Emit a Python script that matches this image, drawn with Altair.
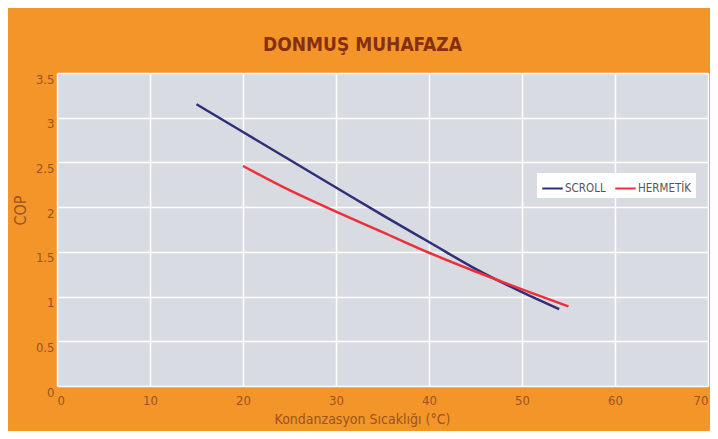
import altair as alt
import pandas as pd

# Data
scroll_x = [15, 20, 25, 30, 35, 40, 45, 50, 54]
scroll_y = [3.15, 2.84, 2.53, 2.22, 1.91, 1.61, 1.31, 1.05, 0.86]
hermetik_x = [20, 25, 30, 35, 40, 45, 50, 55]
hermetik_y = [2.46, 2.19, 1.95, 1.72, 1.49, 1.28, 1.08, 0.89]
series_names = ["SCROLL", "HERMETİK"]
series_colors = ["#2E2F78", "#EC2F3A"]
x_ticks = [0, 10, 20, 30, 40, 50, 60, 70]
y_ticks = [0, 0.5, 1, 1.5, 2, 2.5, 3, 3.5]

rows = []
for i, (x, y) in enumerate(zip(scroll_x, scroll_y)):
    rows.append({"seri": series_names[0], "t": x, "cop": y, "o": i})
for i, (x, y) in enumerate(zip(hermetik_x, hermetik_y)):
    rows.append({"seri": series_names[1], "t": x, "cop": y, "o": i})
df = pd.DataFrame(rows)

FONT = "'Liberation Sans Narrow', 'DejaVu Sans Condensed', Roboto, sans-serif"
BROWN = "#9A541C"

chart = alt.Chart(df).mark_line(strokeWidth=2.5, interpolate="monotone").encode(
    x=alt.X("t:Q", scale=alt.Scale(domain=[0, 70], nice=False),
            axis=alt.Axis(values=x_ticks, title="Kondanzasyon Sıcaklığı (°C)",
                          titleX=305, titleY=33, titleBaseline="middle",
                          titleFontSize=14,
                          labelPadding=8, labelBaseline="top")),
    y=alt.Y("cop:Q", scale=alt.Scale(domain=[0, 3.5], nice=False),
            axis=alt.Axis(values=y_ticks, format="~g", title="COP",
                          titleX=-37, titleY=137, titleBaseline="middle",
                          titleFontSize=16,
                          labelPadding=3, labelBaseline="top")),
    color=alt.Color("seri:N", scale=alt.Scale(domain=series_names, range=series_colors),
                    sort=series_names,
                    legend=alt.Legend(title=None, orient="none", legendX=480, legendY=100,
                                      direction="horizontal", fillColor="white",
                                      padding=4, symbolType="stroke", symbolSize=420,
                                      symbolStrokeWidth=2, labelFontSize=11.5,
                                      labelColor="#555555", labelFont=FONT,
                                      columnPadding=5, labelOffset=1)),
    order="o:Q",
).properties(
    width=651,
    height=313,
    title=alt.TitleParams("DONMUŞ MUHAFAZA", anchor="middle", dx=-20, offset=18,
                          fontSize=19, font=FONT, fontWeight="bold", color="#862F12"),
    background="#F4952A",
    padding={"left": 49, "top": 65, "right": 2, "bottom": 45},
    autosize=alt.AutoSizeParams(type="none"),
).configure_view(
    fill="#D8DBE1", stroke=None
).configure_axis(
    grid=True, gridColor="white", gridWidth=1.5, domain=False, ticks=False,
    labelFont=FONT, labelFontSize=13, labelColor=BROWN,
    titleFont=FONT, titleColor=BROWN, titleFontWeight="normal",
)

chart.save("out.html", embed_options={"renderer": "svg", "actions": False})
